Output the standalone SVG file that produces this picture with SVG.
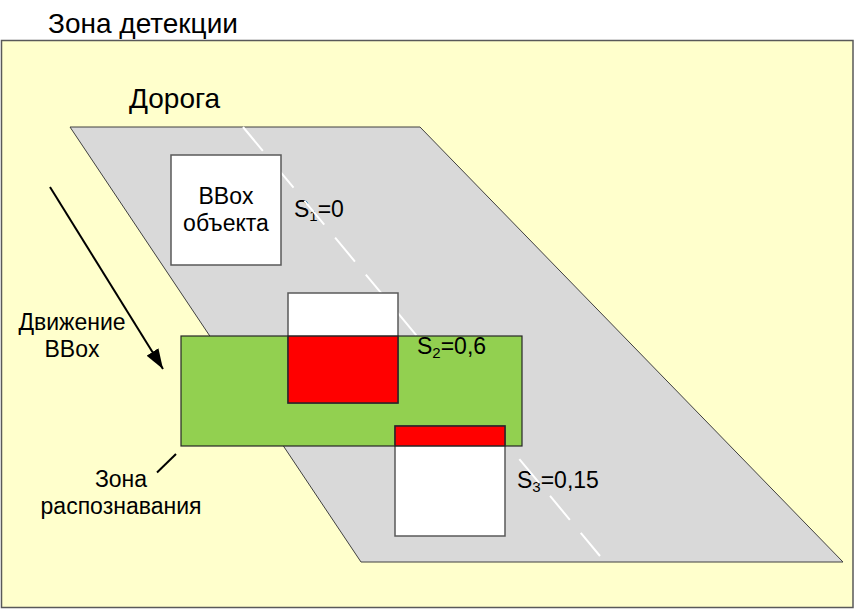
<svg xmlns="http://www.w3.org/2000/svg" width="855" height="609" viewBox="0 0 855 609">
<style>
text{font-family:"Liberation Sans",Arial,sans-serif;fill:#000}
.t28{font-size:28px}
.t20{font-size:23px}
.sub{font-size:15px}
.box{fill:#fff;stroke:#595959;stroke-width:1.5}
.red{fill:#ff0000;stroke:#262626;stroke-width:1.5}
</style>
<defs>
<marker id="ah" viewBox="0 0 20 14" refX="20" refY="7" markerWidth="20" markerHeight="14" markerUnits="userSpaceOnUse" orient="auto">
<path d="M0,0 L20,7 L0,14 Z" fill="#000"/>
</marker>
</defs>
<rect width="855" height="609" fill="#fff"/>
<g id="zone-detection">
<rect x="1.5" y="40.5" width="851.5" height="567" fill="#ffffcc" stroke="#595959" stroke-width="1.5"/>
<text class="t28" x="48" y="33">Зона детекции</text>
</g>
<g id="road">
<polygon points="70,127 420,127 843,562 361,562" fill="#d9d9d9" stroke="#404040" stroke-width="1"/>
<text class="t28" x="129" y="108">Дорога</text>
</g>
<g id="labels-s">
<text class="t20" x="294" y="217">S<tspan class="sub" dy="4">1</tspan><tspan dy="-4">=0</tspan></text>
<text class="t20" x="517" y="488">S<tspan class="sub" dy="4">3</tspan><tspan dy="-4">=0,15</tspan></text>
</g>
<g id="centerline">
<line x1="243" y1="127" x2="600" y2="556" stroke="#fff" stroke-width="2" stroke-dasharray="31 17"/>
</g>
<g id="recognition-zone">
<rect x="181" y="336" width="341" height="110" fill="#92d050" stroke="#262626" stroke-width="1.2"/>
<text class="t20" x="417" y="354">S<tspan class="sub" dy="4">2</tspan><tspan dy="-4">=0,6</tspan></text>
</g>
<g id="bbox1">
<rect class="box" x="171" y="155" width="110" height="110"/>
<text class="t20" x="226" y="204" text-anchor="middle">BBox</text>
<text class="t20" x="226" y="231" text-anchor="middle">объекта</text>
</g>
<g id="bbox2">
<rect class="box" x="288" y="293" width="110" height="110"/>
<rect class="red" x="288" y="336" width="110" height="67"/>
</g>
<g id="bbox3">
<rect class="box" x="395" y="426" width="110" height="110"/>
<rect class="red" x="395" y="426" width="110" height="20"/>
</g>
<g id="connectors">
<line x1="50" y1="187" x2="163" y2="369" stroke="#000" stroke-width="2" marker-end="url(#ah)"/>
<line x1="176" y1="454" x2="157" y2="472.5" stroke="#000" stroke-width="2"/>
</g>
<g id="label-motion">
<text class="t20" x="72" y="330" text-anchor="middle">Движение</text>
<text class="t20" x="72" y="357" text-anchor="middle">BBox</text>
</g>
<g id="label-recognition">
<text class="t20" x="121" y="487" text-anchor="middle">Зона</text>
<text class="t20" x="121" y="514" text-anchor="middle">распознавания</text>
</g>
</svg>
